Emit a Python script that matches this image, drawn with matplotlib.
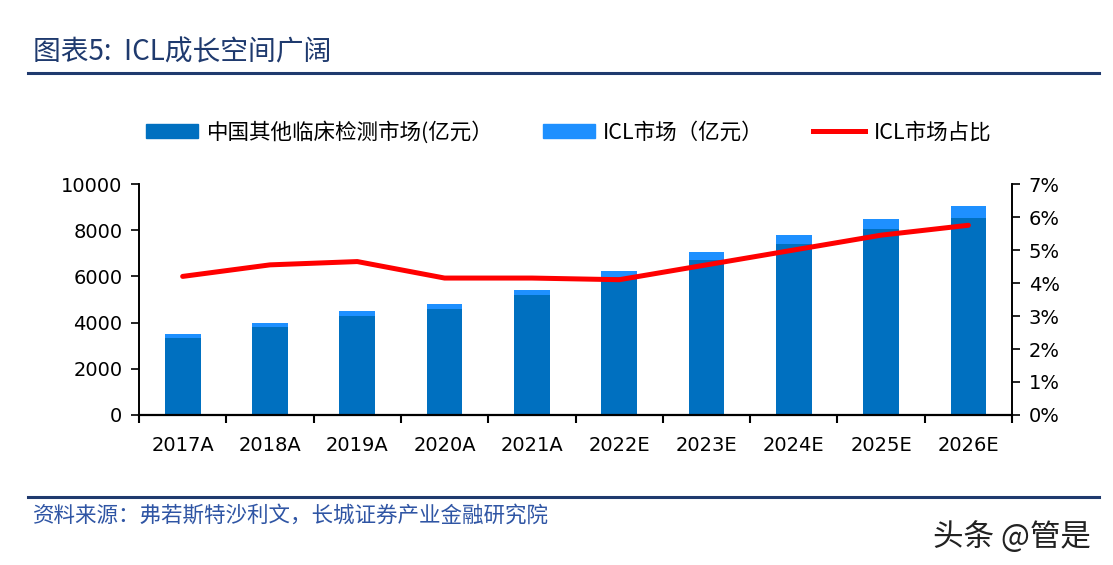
import numpy as np
import matplotlib.pyplot as plt
from matplotlib.lines import Line2D

plt.rcParams['font.family'] = ['DejaVu Sans', 'Noto Sans CJK SC']

# data
years = ['2017A', '2018A', '2019A', '2020A', '2021A',
         '2022E', '2023E', '2024E', '2025E', '2026E']
other_market = [3350, 3820, 4290, 4600, 5180, 5990, 6730, 7410, 8040, 8530]  # 亿元
icl_market = [150, 180, 210, 200, 220, 260, 320, 390, 460, 520]  # 亿元
icl_share = [4.2, 4.55, 4.65, 4.15, 4.15, 4.1, 4.55, 5.0, 5.45, 5.75]  # %

dark_blue = '#0070C0'
light_blue = '#1E90FF'
red = '#FF0000'
navy = '#1F3A6E'
cjk = ['Noto Sans CJK SC', 'DejaVu Sans']

fig = plt.figure(figsize=(11.13, 5.65), dpi=100)
ax = fig.add_axes([0.1249, 0.2655, 0.7844, 0.4088])
ax2 = ax.twinx()

x = np.arange(len(years))
ax.bar(x, other_market, width=0.41, color=dark_blue, zorder=2)
ax.bar(x, icl_market, width=0.41, bottom=other_market, color=light_blue, zorder=2)
ax2.plot(x, icl_share, color=red, lw=3.6, solid_capstyle='round', zorder=3)

ax.set_xlim(-0.5, len(years) - 0.5)
ax.set_ylim(0, 10000)
ax.set_yticks(np.arange(0, 10001, 2000))
ax2.set_ylim(0, 7)
ax2.set_yticks(np.arange(0, 8, 1))
ax2.set_yticklabels([f'{v}%' for v in range(8)])

# category labels centred, tick marks on the boundaries
ax.set_xticks(x)
ax.set_xticklabels(years)
ax.tick_params(axis='x', length=0, pad=15, labelsize=14)
ax.set_xticks(np.arange(-0.5, len(years)), minor=True)
ax.tick_params(axis='x', which='minor', length=6, width=1.5, direction='out')

ax.tick_params(axis='y', length=6, width=1.2, labelsize=14, pad=6)
ax2.tick_params(axis='y', length=6, width=1.2, labelsize=14, pad=6)

for a in (ax, ax2):
    a.spines['top'].set_visible(False)
    for s in ('left', 'right', 'bottom'):
        a.spines[s].set_color('black')
        a.spines[s].set_linewidth(1.2)
ax.spines['bottom'].set_linewidth(1.6)
ax2.set_zorder(ax.get_zorder() + 1)
ax2.patch.set_visible(False)

# legend
handles = [
    plt.Rectangle((0, 0), 1, 1, color=dark_blue),
    plt.Rectangle((0, 0), 1, 1, color=light_blue),
    Line2D([0], [0], color=red, lw=3.6),
]
labels = ['中国其他临床检测市场(亿元）', 'ICL市场（亿元）', 'ICL市场占比']
fig.legend(handles, labels, loc='center', bbox_to_anchor=(0.511, 0.766), ncol=3,
           frameon=False, handlelength=2.4, handleheight=0.6, columnspacing=2.3,
           handletextpad=0.4, prop={'family': cjk, 'size': 15.5})

# title, rules, source and watermark
fig.text(0.030, 0.908, '图表5:  ICL成长空间广阔', fontsize=20, color=navy,
         family=cjk, style='italic', va='center')
fig.add_artist(Line2D([0.025, 0.987], [0.871, 0.871], color=navy, lw=2.2))
fig.add_artist(Line2D([0.025, 0.987], [0.121, 0.121], color=navy, lw=2.2))
fig.text(0.030, 0.088, '资料来源：弗若斯特沙利文，长城证券产业金融研究院', fontsize=15.5,
         color='#2F55A4', family=cjk, style='italic', va='center')
fig.text(0.980, 0.050, '头条 @管是', fontsize=22, color='#222222',
         family=cjk, ha='right', va='center')

fig.savefig('out.png', dpi=100)
